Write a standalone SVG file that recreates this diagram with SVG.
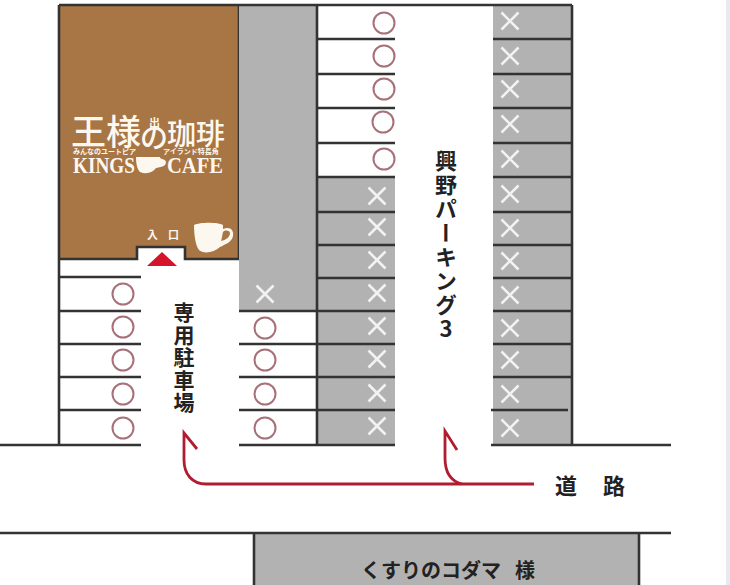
<svg xmlns="http://www.w3.org/2000/svg" width="730" height="585" viewBox="0 0 730 585">
<style>
.ln{stroke:#333;stroke-width:2.6;fill:none}
.o{fill:none;stroke:#a87078;stroke-width:2}
.x{stroke:#f2f2f2;stroke-width:2.6;fill:none}
.g{fill:#b2b2b2}
.r{fill:none;stroke:#b01c30;stroke-width:2.8}
text{font-family:"Noto Sans CJK JP","Noto Sans",sans-serif}
.k{fill:#222;font-weight:700}
.v{writing-mode:vertical-rl;text-orientation:upright}
.c{fill:#fdf8ef}
.s{font-family:"Liberation Serif",serif;font-weight:700;font-size:23px}
</style>
<defs>
<path id="xx" d="M-8.5-8.5 8.5 8.5M8.5-8.5-8.5 8.5"/>
<circle id="oo" r="10.5"/>
</defs>
<rect width="730" height="585" fill="#fff"/>
<rect x="726" width="4" height="585" fill="#e9e9ef"/>
<g id="cafe">
<path d="M59 5H239V259H185V247H137V259H59Z" fill="#a87545"/>
<path d="M59 259H137V247H185V259H239V5" class="ln"/>
<text class="c" x="71" y="145" font-size="35" font-weight="500">王様</text>
<text class="c" x="149" y="127" font-size="11" font-weight="700">出</text>
<text class="c" x="140" y="148" font-size="28" font-weight="500">の</text>
<text class="c" x="167" y="145" font-size="29" font-weight="500">珈琲</text>
<text class="c" x="73" y="154" font-size="7" font-weight="700">みんなのユートピア</text>
<text class="c" x="163" y="154" font-size="7" font-weight="700">アイランド特長角</text>
<text class="c s" x="73" y="173" textLength="62" lengthAdjust="spacingAndGlyphs">KINGS</text>
<path class="c" d="M136 157H160C160 160 165 158 166 162 166 167 160 167 156 168 153 172 147 175 140 172 137 169 136 163 136 157Z"/>
<text class="c s" x="167" y="173" textLength="56" lengthAdjust="spacingAndGlyphs">CAFE</text>
<text class="c" x="147" y="239" font-size="11" font-weight="700" textLength="32">入口</text>
<path class="c" fill-rule="evenodd" d="M194 225C200 222 218 222 223 225V229C230 226 234 230 233 236 232 242 226 244 220 247 214 253 203 254 199 250 195 245 194 232 194 225ZM223 232C222 236 222 238 221 241 226 240 230 237 230 233 229 230 225 230 223 232Z"/>
<path d="M162 252 177 266H147Z" fill="#d3142b"/>
</g>
<g id="lots">
<rect class="g" x="239" y="5" width="78" height="306"/>
<rect class="g" x="317" y="177" width="78" height="268"/>
<rect class="g" x="493" y="5" width="79" height="440"/>
<rect class="g" x="254" y="533" width="385" height="52"/>
<path class="ln" d="M59 5H572M59 5V445M317 5V445M572 5V445"/>
<path class="ln" d="M59 277H141M59 311H141M59 344H141M59 377H141M59 410H141M0 445H141"/>
<path class="ln" d="M239 311H395M239 344H395M239 377H395M239 410H395M239 445H395"/>
<path class="ln" d="M317 39H395M317 74H395M317 108H395M317 143H395M317 177H395M317 212H395M317 245H395M317 278H395"/>
<path class="ln" d="M493 39H572M493 74H572M493 108H572M493 143H572M493 177H572M493 212H572M493 245H572M493 278H572M493 311H572M493 344H572M493 377H572M491 410H568M491 445H671"/>
<path class="ln" d="M0 533H671M254 533V585M639 533V585"/>
</g>
<g id="marks">
<use href="#oo" class="o" x="123" y="294"/><use href="#oo" class="o" x="123" y="327"/><use href="#oo" class="o" x="123" y="360"/><use href="#oo" class="o" x="123" y="394"/><use href="#oo" class="o" x="123" y="428"/>
<use href="#oo" class="o" x="265" y="328"/><use href="#oo" class="o" x="265" y="360"/><use href="#oo" class="o" x="265" y="394"/><use href="#oo" class="o" x="265" y="428"/>
<use href="#oo" class="o" x="384" y="23"/><use href="#oo" class="o" x="384" y="56"/><use href="#oo" class="o" x="384" y="89"/><use href="#oo" class="o" x="383" y="122"/><use href="#oo" class="o" x="384" y="159"/>
<use href="#xx" class="x" x="265" y="294"/>
<use href="#xx" class="x" x="377" y="196"/><use href="#xx" class="x" x="377" y="227"/><use href="#xx" class="x" x="377" y="260"/><use href="#xx" class="x" x="377" y="293"/><use href="#xx" class="x" x="377" y="326"/><use href="#xx" class="x" x="377" y="359"/><use href="#xx" class="x" x="377" y="393"/><use href="#xx" class="x" x="377" y="426"/>
<use href="#xx" class="x" x="510" y="21"/><use href="#xx" class="x" x="510" y="56"/><use href="#xx" class="x" x="510" y="89"/><use href="#xx" class="x" x="510" y="124"/><use href="#xx" class="x" x="510" y="159"/><use href="#xx" class="x" x="510" y="194"/><use href="#xx" class="x" x="510" y="228"/><use href="#xx" class="x" x="510" y="261"/><use href="#xx" class="x" x="510" y="295"/><use href="#xx" class="x" x="510" y="328"/><use href="#xx" class="x" x="510" y="360"/><use href="#xx" class="x" x="510" y="394"/><use href="#xx" class="x" x="510" y="428"/>
</g>
<g id="connectors">
<path class="r" d="M534 484H206C192 484 184 474 184 460V433L197 449"/>
<path class="r" d="M462 484C450 481 445 472 445 458V431L457 450"/>
</g>
<g id="labels">
<text class="k v" x="184" y="302" font-size="21" letter-spacing="1.5">専用駐車場</text>
<text class="k v" x="446" y="150" font-size="22" letter-spacing="2">興野パーキング3</text>
<text class="k" x="555" y="494" font-size="22" letter-spacing="26">道路</text>
<text class="k" x="361" y="578" font-size="20" font-weight="500">くすりのコダマ<tspan x="515">様</tspan></text>
</g>
</svg>
